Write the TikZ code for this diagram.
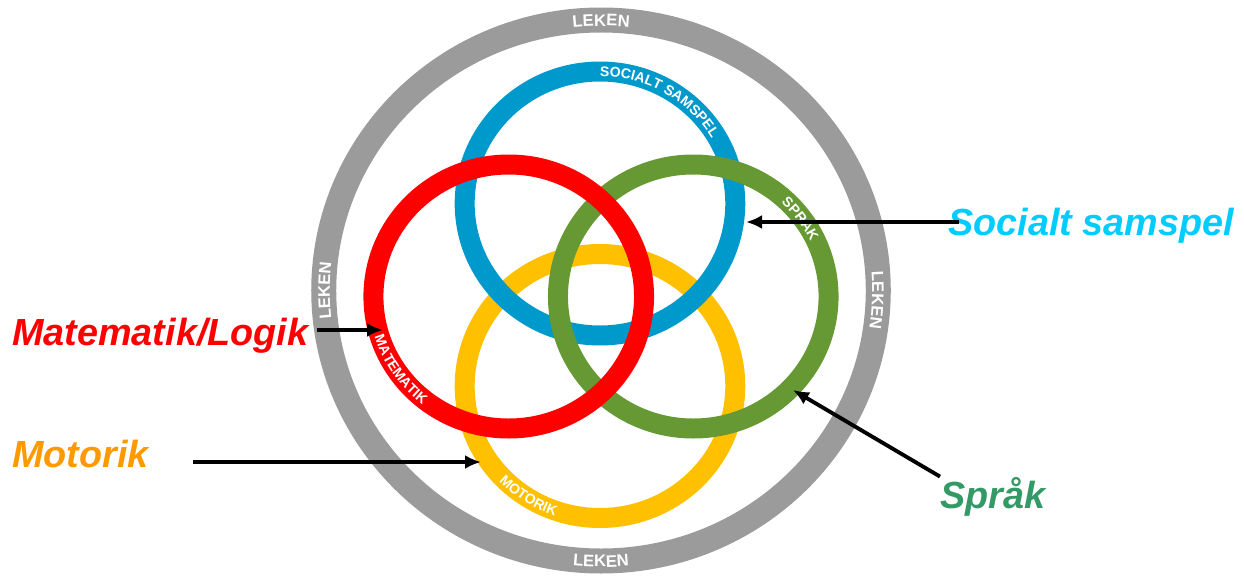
\documentclass[tikz,border=0pt]{standalone}
\usepackage{fontspec}
\setmainfont{Liberation Sans}
\usetikzlibrary{decorations.text,arrows.meta}

\definecolor{lekgray}{RGB}{155,155,155}
\definecolor{socblue}{RGB}{0,153,204}
\definecolor{matred}{RGB}{255,0,0}
\definecolor{spragreen}{RGB}{102,153,51}
\definecolor{motyellow}{RGB}{255,192,0}
\definecolor{soclabel}{RGB}{0,204,255}
\definecolor{motlabel}{RGB}{255,153,0}
\definecolor{spralabel}{RGB}{51,153,102}

\newcommand\ringfont{\bfseries\fontsize{8}{8}\selectfont}
\newcommand\lekfont{\bfseries\fontsize{9.5}{10}\selectfont}

\tikzset{
  ring/.style={line width=0.4cm},
  outerring/.style={line width=0.5cm, draw=lekgray},
  lbl/.style={inner sep=0, font=\fontsize{21.5}{25}\selectfont\bfseries\itshape},
  arr/.style={line width=2.2pt, -{Latex[length=0.32cm,width=0.28cm]}},
  ringtext/.style 2 args={decorate, decoration={text along path, text align=center, text color=white, text={|#1|#2}}}
}

\begin{document}
\begin{tikzpicture}[x=0.02cm, y=0.02cm]
\useasboundingbox (0,0) rectangle (1244,576);

\begin{scope}[shift={(601,285.5)}, xscale=1.025]
  % leken
  \draw[outerring] (0,0) circle[radius=270.5];
  \path[ringtext={\lekfont}{LEKEN}] (180:264.5) arc[start angle=180, end angle=0, radius=264.5];
  \path[ringtext={\lekfont}{LEKEN}] (180:276.5) arc[start angle=180, end angle=360, radius=276.5];
  \path[ringtext={\lekfont}{LEKEN}] (270:264.5) arc[start angle=270, end angle=90, radius=264.5];
  \path[ringtext={\lekfont}{LEKEN}] (88:264.5) arc[start angle=88, end angle=-92, radius=264.5];

  \coordinate (soc0) at (-1,87);
  \coordinate (mat0) at (-90,-6);
  \coordinate (spr0) at (90,-6);
  \coordinate (mot0) at (-1,-95.5);

  \draw[ring, draw=motyellow] (mot0) circle[radius=132];
  \draw[ring, draw=socblue] (soc0) circle[radius=132];
  \draw[ring, draw=spragreen] (spr0) circle[radius=132];
  \draw[ring, draw=matred] (mat0) circle[radius=132];

  \path[ringtext={\ringfont}{SOCIALT SAMSPEL}] (soc0) ++(150:127) arc[start angle=150, end angle=-30, radius=127];
  \path[ringtext={\ringfont}{SPRÅK}] (spr0) ++(126:127) arc[start angle=126, end angle=-54, radius=127];
  \path[ringtext={\ringfont}{MATEMATIK}] (mat0) ++(124:137) arc[start angle=124, end angle=304, radius=137];
  \path[ringtext={\ringfont}{MOTORIK}] (mot0) ++(147:137) arc[start angle=147, end angle=327, radius=137];
\end{scope}

\node[lbl, text=soclabel, anchor=base west] (soc) at (948,341) {Socialt samspel};
\node[lbl, text=matred, anchor=base west] (mat) at (12,231) {Matematik/Logik};
\node[lbl, text=motlabel, anchor=base west] (mot) at (12,109) {Motorik};
\node[lbl, text=spralabel, anchor=base west] (spr) at (940,68) {Språk};

\coordinate (socTip) at (746,354);
\coordinate (matTip) at (383,246);
\coordinate (motTip) at (481,114);
\coordinate (sprTip) at (793,186);

\draw[arr, shorten <=-0.22cm] (soc.west |- socTip) -- (socTip);
\draw[arr, shorten <=0.16cm] (mat.east |- matTip) -- (matTip);
\draw[arr, shorten <=0.88cm] (mot.east |- motTip) -- (motTip);
\draw[arr] (spr.north west) -- (sprTip);
\end{tikzpicture}
\end{document}
